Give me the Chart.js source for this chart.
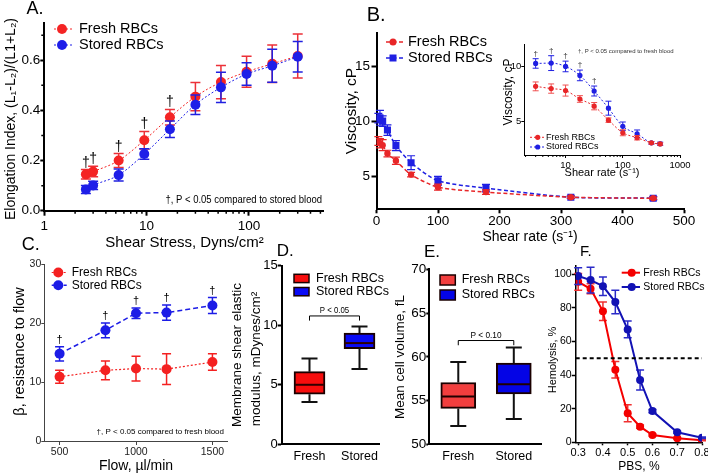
<!DOCTYPE html>
<html>
<head>
<meta charset="utf-8">
<script src="https://cdn.jsdelivr.net/npm/chart.js@4.4.1/dist/chart.umd.min.js"></script>
<style>
html, body { margin: 0; padding: 0; background: #fff; }
#wrap { position: relative; width: 708px; height: 474px; overflow: hidden; }
#wrap canvas { position: absolute; left: 0; top: 0; }
</style>
</head>
<body>
<div id="wrap">
<canvas id="cA" width="708" height="474"></canvas>
<canvas id="cB" width="708" height="474"></canvas>
<canvas id="cBi" width="708" height="474"></canvas>
<canvas id="cC" width="708" height="474"></canvas>
<canvas id="cD" width="708" height="474"></canvas>
<canvas id="cE" width="708" height="474"></canvas>
<canvas id="cF" width="708" height="474"></canvas>
</div>
<script>
// A. elongation index vs shear stress
const shearStress = [2.55, 3.0, 5.33, 9.49, 16.9, 30, 53.3, 94.9, 169, 300];
const eiFresh = [0.145, 0.156, 0.200, 0.281, 0.373, 0.455, 0.513, 0.554, 0.586, 0.617];
const eiFreshErr = [0.019, 0.021, 0.028, 0.035, 0.031, 0.056, 0.066, 0.062, 0.075, 0.088];
const eiStored = [0.085, 0.101, 0.142, 0.226, 0.325, 0.423, 0.492, 0.545, 0.578, 0.614];
const eiStoredErr = [0.016, 0.016, 0.024, 0.021, 0.033, 0.039, 0.060, 0.045, 0.066, 0.061];
const eiTicks = [0, 0.2, 0.4, 0.6];
const eiMinor = [0.1, 0.3, 0.5, 0.7];
const stressTicks = [1, 10, 100];
const stressMinor = [2, 3, 4, 5, 6, 7, 8, 9, 20, 30, 40, 50, 60, 70, 80, 90, 200, 300, 400, 500];

// B. viscosity vs shear rate (main + inset)
const shearRate = [3, 5.6, 10, 17.8, 31.6, 56.2, 100, 178, 316, 450];
const viscFresh = [8.2, 8.0, 7.82, 7.06, 6.41, 5.15, 4.01, 3.56, 3.1, 3.0];
const viscFreshErr = [0.4, 0.42, 0.5, 0.3, 0.33, 0.2, 0.27, 0.2, 0.1, 0.1];
const viscStored = [10.27, 10.3, 10.0, 9.19, 7.78, 6.23, 4.59, 3.92, 3.1, 3.01];
const viscStoredErr = [0.43, 0.67, 0.48, 0.48, 0.45, 0.63, 0.39, 0.34, 0.12, 0.15];
const rateTicks = [0, 100, 200, 300, 400, 500];
const viscTicks = [5, 10, 15];
const rateLogTicks = [10, 100, 1000];
const rateLogMinor = [2, 3, 4, 5, 6, 7, 8, 9, 20, 30, 40, 50, 60, 70, 80, 90, 200, 300, 400, 500, 600, 700, 800, 900];
const insetViscTicks = [5, 10];

// C. resistance to flow
const flow = [500, 800, 1000, 1200, 1500];
const betaFresh = [10.9, 12.0, 12.3, 12.2, 13.4];
const betaFreshErr = [1.1, 1.6, 2.1, 2.6, 1.4];
const betaStored = [14.8, 18.8, 21.7, 21.8, 23.0];
const betaStoredErr = [1.2, 1.25, 0.9, 1.3, 1.35];
const flowTicks = [500, 1000, 1500];
const betaTicks = [0, 10, 20, 30];

// D. membrane shear elastic modulus (box plot)
const groups = ['Fresh', 'Stored'];
const modMin = [3.55, 6.33];
const modQ1 = [4.2, 8.03];
const modMed = [5.0, 8.5];
const modQ3 = [6.1, 9.35];
const modMax = [7.2, 9.9];
const modTicks = [0, 5, 10, 15];

// E. mean cell volume (box plot)
const mcvMin = [52.1, 52.9];
const mcvQ1 = [54.1, 55.77];
const mcvMed = [55.46, 56.86];
const mcvQ3 = [57.06, 59.27];
const mcvMax = [59.4, 61.06];
const mcvTicks = [50, 55, 60, 65, 70];

// F. osmotic fragility
const pbs = [0.3, 0.35, 0.4, 0.45, 0.5, 0.55, 0.6, 0.7, 0.8];
const hemFresh = [95.6, 91.4, 78, 43.2, 17.3, 9.3, 4.3, 2.4, 1.2];
const hemFreshErr = [5, 3, 5.5, 4.9, 5, 1, 0.6, 0.4, 0.3];
const hemStored = [99, 96.6, 93, 83.5, 67.2, 37.1, 18.6, 6, 2.7];
const hemStoredErr = [5, 7.7, 5.5, 7, 5, 6, 1, 0.6, 0.5];
const hemHalf = 50;
const pbsTicks = [0.3, 0.4, 0.5, 0.6, 0.7, 0.8];
const hemTicks = [0, 20, 40, 60, 80, 100];

const W = 708, H = 474;
const FONT = '"Liberation Sans", Arial, Helvetica, sans-serif';
Chart.defaults.font.family = FONT;
Chart.defaults.color = '#000';
Chart.defaults.animation = false;
Chart.defaults.plugins.legend.display = false;
Chart.defaults.plugins.tooltip.enabled = false;

function pts(xs, ys) { return xs.map((x, i) => ({ x: x, y: ys[i] })); }
function boxes(q1, q3) { return q1.map((v, i) => ({ x: i, y: [v, q3[i]] })); }
function pad(a) { return { left: 0, top: a.top, right: W - a.right, bottom: 0 }; }

function scaleX(a, o) {
    return {
        type: o.type || 'linear', position: 'bottom', min: o.min, max: o.max, bounds: 'data', offset: false,
        grid: { offset: false, drawOnChartArea: false, drawTicks: o.tl > 0, tickLength: o.tl, tickColor: o.col || '#000', tickWidth: o.lw },
        border: { display: true, color: o.col || '#000', width: o.lw },
        ticks: { autoSkip: false, maxRotation: 0, minRotation: 0, padding: o.pad, color: o.tcol || '#000',
                 font: { size: o.fs }, callback: o.fmt || (v => String(v)) },
        afterBuildTicks: s => { s.ticks = o.ticks.map(v => ({ value: v })); },
        afterFit: s => { s.height = H - a.bottom; s.paddingLeft = 0; s.paddingRight = 0; }
    };
}

function scaleY(a, o) {
    return {
        type: o.type || 'linear', position: 'left', min: o.min, max: o.max, bounds: 'data',
        grid: { drawOnChartArea: false, drawTicks: o.tl > 0, tickLength: o.tl, tickColor: o.col || '#000', tickWidth: o.lw },
        border: { display: true, color: o.col || '#000', width: o.lw },
        ticks: { autoSkip: false, padding: o.pad, color: o.tcol || '#000',
                 font: { size: o.fs }, callback: o.fmt || (v => String(v)) },
        afterBuildTicks: s => { s.ticks = o.ticks.map(v => ({ value: v })); },
        afterFit: s => { s.width = a.left; s.paddingTop = 0; s.paddingBottom = 0; }
    };
}

function text(ctx, s, x, y, size, o) {
    o = o || {};
    ctx.save();
    ctx.font = size + 'px ' + FONT;
    ctx.fillStyle = o.color || '#000';
    ctx.textAlign = o.align || 'left';
    ctx.textBaseline = o.base || 'middle';
    ctx.translate(x, y);
    if (o.rot) ctx.rotate(-Math.PI / 2);
    if (o.sx) ctx.scale(o.sx, 1);
    ctx.fillText(s, 0, 0);
    ctx.restore();
}

function legendItem(ctx, l) {
    ctx.save();
    if (l.kind === 'box') {
        ctx.fillStyle = l.color;
        ctx.fillRect(l.x, l.y, l.w, l.h);
        ctx.strokeStyle = '#1a0000';
        ctx.lineWidth = 1.5;
        ctx.strokeRect(l.x, l.y, l.w, l.h);
    } else {
        ctx.strokeStyle = l.color;
        ctx.lineWidth = l.lw || 1;
        ctx.setLineDash(l.dash || []);
        ctx.beginPath();
        ctx.moveTo(l.x0, l.y);
        ctx.lineTo(l.x1, l.y);
        ctx.stroke();
        ctx.setLineDash([]);
        ctx.fillStyle = l.color;
        ctx.beginPath();
        if (l.marker === 'rect') ctx.rect(l.mx - l.r, l.y - l.r, 2 * l.r, 2 * l.r);
        else ctx.arc(l.mx, l.y, l.r, 0, Math.PI * 2);
        ctx.fill();
    }
    ctx.restore();
    text(ctx, l.label, l.tx, l.y + (l.kind === 'box' ? l.h / 2 : 0), l.fs);
}

function decor(cfg) {
    return {
        id: 'decor',
        afterDraw(chart) {
            const ctx = chart.ctx;
            (cfg.minor || []).forEach(m => {
                const s = chart.scales[m.axis];
                ctx.save();
                ctx.strokeStyle = m.col || '#000';
                ctx.lineWidth = m.lw || 1;
                ctx.beginPath();
                m.values.forEach(v => {
                    const p = s.getPixelForValue(v);
                    if (m.axis === 'x') { ctx.moveTo(p, s.top); ctx.lineTo(p, s.top + m.len); }
                    else { ctx.moveTo(s.right, p); ctx.lineTo(s.right - m.len, p); }
                });
                ctx.stroke();
                ctx.restore();
            });
            (cfg.daggers || []).forEach(d => {
                const ds = chart.data.datasets[d.ds];
                const meta = chart.getDatasetMeta(d.ds);
                const ys = chart.scales.y;
                d.idx.forEach(i => {
                    const py = ys.getPixelForValue(ds.data[i].y + ds.errors[i]);
                    text(ctx, '\u2020', meta.data[i].x, py - d.gap, d.fs, { align: 'center', base: 'alphabetic', color: d.color });
                });
            });
            (cfg.legend || []).forEach(l => legendItem(ctx, l));
            (cfg.texts || []).forEach(t => text(ctx, t[0], t[1], t[2], t[3], t[4]));
            if (cfg.bracket) {
                const b = cfg.bracket, xs = chart.scales.x, ys = chart.scales.y;
                const x0 = xs.getPixelForValue(0), x1 = xs.getPixelForValue(1);
                const yt = ys.getPixelForValue(b.top), yl = ys.getPixelForValue(b.leg);
                ctx.save();
                ctx.strokeStyle = '#000';
                ctx.lineWidth = 1;
                ctx.beginPath();
                ctx.moveTo(x0, yl); ctx.lineTo(x0, yt); ctx.lineTo(x1, yt); ctx.lineTo(x1, yl);
                ctx.stroke();
                ctx.restore();
                text(ctx, b.label, (x0 + x1) / 2, yt - b.dy, b.fs, { align: 'center', sx: 0.92 });
            }
        }
    };
}

// error bars drawn just before their own dataset
Chart.register({
    id: 'errorBars',
    beforeDatasetDraw(chart, args) {
        const ds = chart.data.datasets[args.index];
        if (!ds.errors) return;
        const meta = args.meta, ys = chart.scales[meta.yAxisID], ctx = chart.ctx;
        const cw = ds.capWidth || 4;
        ctx.save();
        ctx.strokeStyle = ds.errColor || ds.borderColor;
        ctx.lineWidth = ds.errWidth || 1.5;
        ctx.setLineDash([]);
        meta.data.forEach((pt, i) => {
            const v = ds.data[i].y, e = ds.errors[i];
            if (!e) return;
            const t = ys.getPixelForValue(v + e), b = ys.getPixelForValue(v - e), x = pt.x;
            ctx.beginPath();
            ctx.moveTo(x, t); ctx.lineTo(x, b);
            ctx.moveTo(x - cw, t); ctx.lineTo(x + cw, t);
            ctx.moveTo(x - cw, b); ctx.lineTo(x + cw, b);
            ctx.stroke();
        });
        ctx.restore();
    }
});

// whiskers and median for floating-bar box plots
Chart.register({
    id: 'boxWhiskers',
    afterDatasetDraw(chart, args) {
        const ds = chart.data.datasets[args.index];
        if (!ds.whisker) return;
        const ys = chart.scales.y, ctx = chart.ctx, w = ds.whisker;
        ctx.save();
        ctx.lineWidth = 2;
        args.meta.data.forEach((bar, i) => {
            const x = bar.x, half = bar.width / 2;
            const q1 = ys.getPixelForValue(ds.data[i].y[0]), q3 = ys.getPixelForValue(ds.data[i].y[1]);
            const lo = ys.getPixelForValue(w.min[i]), hi = ys.getPixelForValue(w.max[i]);
            const md = ys.getPixelForValue(w.med[i]);
            ctx.strokeStyle = '#111';
            ctx.beginPath();
            ctx.moveTo(x, q3); ctx.lineTo(x, hi);
            ctx.moveTo(x - w.cap, hi); ctx.lineTo(x + w.cap, hi);
            ctx.moveTo(x, q1); ctx.lineTo(x, lo);
            ctx.moveTo(x - w.cap, lo); ctx.lineTo(x + w.cap, lo);
            ctx.stroke();
            ctx.strokeStyle = w.medColor;
            ctx.beginPath();
            ctx.moveTo(x - half + 1, md); ctx.lineTo(x + half - 1, md);
            ctx.stroke();
        });
        ctx.restore();
    }
});

// ---------- panel A ----------
const aArea = { left: 44.3, top: 22.7, right: 323, bottom: 210.7 };
const redA = '#f42424', blueA = '#1e1ee8';
new Chart(document.getElementById('cA'), {
    type: 'line',
    data: { datasets: [
        { data: pts(shearStress, eiStored), errors: eiStoredErr, borderColor: blueA, backgroundColor: blueA,
          borderWidth: 1, borderDash: [2, 2], pointRadius: 5, pointBorderWidth: 0, cubicInterpolationMode: 'monotone',
          errColor: '#2020e0', capWidth: 5 },
        { data: pts(shearStress, eiFresh), errors: eiFreshErr, borderColor: redA, backgroundColor: redA,
          borderWidth: 1, borderDash: [2, 2], pointRadius: 5, pointBorderWidth: 0, cubicInterpolationMode: 'monotone',
          errColor: '#ec3038', capWidth: 5 }
    ] },
    options: {
        responsive: false,
        layout: { padding: pad(aArea) },
        scales: {
            x: scaleX(aArea, { type: 'logarithmic', min: 1, max: 530, ticks: stressTicks, tl: 5, pad: 2, lw: 2, fs: 13.5 }),
            y: scaleY(aArea, { min: 0, max: 0.75, ticks: eiTicks, tl: 4, pad: 0, lw: 2, fs: 13.5, fmt: v => v.toFixed(1) })
        }
    },
    plugins: [decor({
        minor: [{ axis: 'x', values: stressMinor, len: 3, lw: 1.5 }, { axis: 'y', values: eiMinor, len: 3, lw: 1.5 }],
        daggers: [{ ds: 1, idx: [0, 1, 2, 3, 4], gap: 3, fs: 14 }],
        legend: [
            { x0: 54, x1: 72, mx: 62, y: 29, r: 5, color: redA, dash: [2, 2], label: 'Fresh RBCs', tx: 79, fs: 14.5 },
            { x0: 54, x1: 72, mx: 62, y: 45, r: 5, color: blueA, dash: [2, 2], label: 'Stored RBCs', tx: 79, fs: 14.5 }
        ],
        texts: [
            ['A.', 26.5, 9, 18],
            ['Elongation Index, (L\u2081-L\u2082)/(L1+L\u2082)', 11, 119, 14, { rot: true, align: 'center' }],
            ['Shear Stress, Dyns/cm\u00b2', 184.5, 243, 15, { align: 'center' }],
            ['\u2020, P < 0.05 compared to stored blood', 322, 200, 10, { align: 'right', sx: 0.95 }]
        ]
    })]
});

// ---------- panel B (main) ----------
const bArea = { left: 376.5, top: 33, right: 684, bottom: 209.3 };
const redB = '#e82628', blueB = '#1f1fe2';
new Chart(document.getElementById('cB'), {
    type: 'line',
    data: { datasets: [
        { data: pts(shearRate, viscFresh), errors: viscFreshErr, borderColor: redB, backgroundColor: redB,
          borderWidth: 1.5, borderDash: [4, 2.5], pointRadius: 3.2, pointBorderWidth: 0, tension: 0.25, capWidth: 4, errWidth: 1.2 },
        { data: pts(shearRate, viscStored), errors: viscStoredErr, borderColor: blueB, backgroundColor: blueB,
          borderWidth: 1.5, borderDash: [4, 2.5], pointStyle: 'rect', pointRadius: 5, pointBorderWidth: 0, tension: 0.25, capWidth: 4, errWidth: 1.2 }
    ] },
    options: {
        responsive: false,
        layout: { padding: pad(bArea) },
        scales: {
            x: scaleX(bArea, { min: 0, max: 500, ticks: rateTicks, tl: 4, pad: 0, lw: 2, fs: 13.5 }),
            y: scaleY(bArea, { min: 2, max: 18, ticks: viscTicks, tl: 5, pad: 1.5, lw: 2, fs: 13.5 })
        }
    },
    plugins: [decor({
        legend: [
            { x0: 386, x1: 403, mx: 393, y: 42, r: 3.5, color: redB, lw: 1.5, dash: [4, 2.5], label: 'Fresh RBCs', tx: 408, fs: 14.5 },
            { x0: 386, x1: 403, mx: 393, y: 58, r: 3.5, marker: 'rect', color: blueB, lw: 1.5, dash: [4, 2.5], label: 'Stored RBCs', tx: 408, fs: 14.5 }
        ],
        texts: [
            ['B.', 366.7, 15, 20],
            ['Viscosity, cP', 352, 111, 15.5, { rot: true, align: 'center' }],
            ['Shear rate (s\u207b\u00b9)', 530, 237, 14, { align: 'center' }]
        ]
    })]
});

// ---------- panel B (inset) ----------
const biArea = { left: 524.3, top: 44.3, right: 680, bottom: 155 };
new Chart(document.getElementById('cBi'), {
    type: 'line',
    data: { datasets: [
        { data: pts(shearRate, viscFresh), errors: viscFreshErr, borderColor: redB, backgroundColor: redB,
          borderWidth: 1, borderDash: [2, 2], pointRadius: 2.6, pointBorderWidth: 0, cubicInterpolationMode: 'monotone',
          capWidth: 3, errWidth: 1, errColor: '#f05050' },
        { data: pts(shearRate, viscStored), errors: viscStoredErr, borderColor: blueB, backgroundColor: blueB,
          borderWidth: 1, borderDash: [2, 2], pointRadius: 2.6, pointBorderWidth: 0, cubicInterpolationMode: 'monotone',
          capWidth: 3, errWidth: 1 }
    ] },
    options: {
        responsive: false,
        layout: { padding: pad(biArea) },
        scales: {
            x: scaleX(biArea, { type: 'logarithmic', min: 1.9, max: 1000, ticks: rateLogTicks, tl: 3, pad: 2, lw: 1, fs: 9.5 }),
            y: scaleY(biArea, { min: 2, max: 12, ticks: insetViscTicks, tl: 3, pad: 0, lw: 1, fs: 9.5 })
        }
    },
    plugins: [decor({
        minor: [{ axis: 'x', values: rateLogMinor, len: 2, lw: 1 }],
        daggers: [{ ds: 1, idx: [0, 1, 2, 3, 4], gap: 3, fs: 8, color: '#333' }],
        legend: [
            { x0: 530, x1: 545, mx: 537.7, y: 137.3, r: 2.6, color: redB, dash: [2, 2], label: 'Fresh RBCs', tx: 546, fs: 9 },
            { x0: 530, x1: 545, mx: 537.7, y: 147, r: 2.6, color: blueB, dash: [2, 2], label: 'Stored RBCs', tx: 546, fs: 9 }
        ],
        texts: [
            ['Viscosity, cP', 509, 92, 12, { rot: true, align: 'center' }],
            ['Shear rate (s\u207b\u00b9)', 602, 173, 11, { align: 'center' }],
            ['\u2020, P < 0.05 compared to fresh blood', 578, 51, 6, { color: '#333' }]
        ]
    })]
});

// ---------- panel C ----------
const cArea = { left: 44.3, top: 264.3, right: 227.7, bottom: 441 };
const redC = '#f42020', blueC = '#1c1ce6';
new Chart(document.getElementById('cC'), {
    type: 'line',
    data: { datasets: [
        { data: pts(flow, betaFresh), errors: betaFreshErr, borderColor: redC, backgroundColor: redC,
          borderWidth: 1.2, borderDash: [2, 2], pointRadius: 5, pointBorderWidth: 0, capWidth: 4.5 },
        { data: pts(flow, betaStored), errors: betaStoredErr, borderColor: blueC, backgroundColor: blueC,
          borderWidth: 1.5, borderDash: [5, 3], pointRadius: 5, pointBorderWidth: 0, capWidth: 4.5 }
    ] },
    options: {
        responsive: false,
        layout: { padding: pad(cArea) },
        scales: {
            x: scaleX(cArea, { min: 400, max: 1600, ticks: flowTicks, tl: 4, pad: 1, lw: 1, fs: 10.5, col: '#444', tcol: '#222' }),
            y: scaleY(cArea, { min: 0, max: 30, ticks: betaTicks, tl: 3, pad: 0, lw: 1, fs: 10.5, col: '#444', tcol: '#222' })
        }
    },
    plugins: [decor({
        daggers: [{ ds: 1, idx: [0, 1, 2, 3, 4], gap: 4, fs: 11 }],
        legend: [
            { x0: 51.7, x1: 66.7, mx: 58.3, y: 272.5, r: 5, color: redC, dash: [2, 2], label: 'Fresh RBCs', tx: 71.7, fs: 12 },
            { x0: 51.7, x1: 66.7, mx: 58.3, y: 285.3, r: 5, color: blueC, lw: 1.5, dash: [4, 2], label: 'Stored RBCs', tx: 71.7, fs: 12 }
        ],
        texts: [
            ['C.', 21.7, 245, 18],
            ['\u03b2, resistance to flow', 20, 351.5, 14.5, { rot: true, align: 'center' }],
            ['Flow, \u00b5l/min', 136, 466, 14, { align: 'center' }],
            ['\u2020, P < 0.05 compared to fresh blood', 224, 431.7, 8, { align: 'right' }]
        ]
    })]
});

// ---------- panel D ----------
const dArea = { left: 281.7, top: 265.7, right: 380, bottom: 444.3 };
new Chart(document.getElementById('cD'), {
    type: 'bar',
    data: { datasets: [
        { data: boxes(modQ1, modQ3), backgroundColor: ['#f70d0d', '#0a0af5'], borderColor: '#1a0000',
          borderWidth: 2, borderSkipped: false, barThickness: 31,
          whisker: { min: modMin, med: modMed, max: modMax, cap: 8, medColor: '#300000' } }
    ] },
    options: {
        responsive: false,
        layout: { padding: pad(dArea) },
        scales: {
            x: scaleX(dArea, { min: -0.556, max: 1.41, ticks: [0, 1], tl: 0, pad: 5, lw: 2, fs: 12.5, fmt: v => groups[v] }),
            y: scaleY(dArea, { min: 0, max: 15, ticks: modTicks, tl: 4, pad: 0, lw: 2, fs: 13 })
        }
    },
    plugins: [decor({
        legend: [
            { kind: 'box', x: 294, y: 274.3, w: 15, h: 8.3, color: '#f70d0d', label: 'Fresh RBCs', tx: 316, fs: 12.5 },
            { kind: 'box', x: 294, y: 287.5, w: 15, h: 8.3, color: '#0a0af5', label: 'Stored RBCs', tx: 316, fs: 12.5 }
        ],
        bracket: { top: 10.78, leg: 10.39, label: 'P < 0.05', dy: 5, fs: 8.5 },
        texts: [
            ['D.', 276.7, 251, 17],
            ['Membrane shear elastic', 237, 355, 13.5, { rot: true, align: 'center' }],
            ['modulus, mDynes/cm\u00b2', 256.5, 359, 13.5, { rot: true, align: 'center' }]
        ]
    })]
});

// ---------- panel E ----------
const eArea = { left: 429.3, top: 269.3, right: 541, bottom: 444.3 };
new Chart(document.getElementById('cE'), {
    type: 'bar',
    data: { datasets: [
        { data: boxes(mcvQ1, mcvQ3), backgroundColor: ['#f23e3e', '#0404e6'], borderColor: '#1a0000',
          borderWidth: 2, borderSkipped: false, barThickness: 35,
          whisker: { min: mcvMin, med: mcvMed, max: mcvMax, cap: 8, medColor: '#200000' } }
    ] },
    options: {
        responsive: false,
        layout: { padding: pad(eArea) },
        scales: {
            x: scaleX(eArea, { min: -0.522, max: 1.49, ticks: [0, 1], tl: 0, pad: 5, lw: 2, fs: 12.5, fmt: v => groups[v] }),
            y: scaleY(eArea, { min: 50, max: 70, ticks: mcvTicks, tl: 3, pad: 0, lw: 2, fs: 13.5 })
        }
    },
    plugins: [decor({
        legend: [
            { kind: 'box', x: 440, y: 275, w: 15.3, h: 10, color: '#f23e3e', label: 'Fresh RBCs', tx: 461.7, fs: 12.5 },
            { kind: 'box', x: 440, y: 290, w: 15.3, h: 10, color: '#0404e6', label: 'Stored RBCs', tx: 461.7, fs: 12.5 }
        ],
        bracket: { top: 61.86, leg: 61.32, label: 'P < 0.10', dy: 5.3, fs: 9 },
        texts: [
            ['E.', 424, 252, 17],
            ['Mean cell volume, fL', 400, 357, 13.5, { rot: true, align: 'center' }]
        ]
    })]
});

// ---------- panel F ----------
const fArea = { left: 575.7, top: 266, right: 702, bottom: 442.3 };
const redF = '#f40000', blueF = '#1212b4';
new Chart(document.getElementById('cF'), {
    type: 'line',
    data: { datasets: [
        { data: [{ x: 0.29, y: hemHalf }, { x: 0.8, y: hemHalf }], borderColor: '#000', borderWidth: 2,
          borderDash: [4, 3], pointRadius: 0 },
        { data: pts(pbs, hemStored), errors: hemStoredErr, borderColor: blueF, backgroundColor: blueF,
          borderWidth: 2, pointRadius: 4, pointBorderWidth: 0, capWidth: 4, errWidth: 1.5, errColor: '#2a2ac8' },
        { data: pts(pbs, hemFresh), errors: hemFreshErr, borderColor: redF, backgroundColor: redF,
          borderWidth: 2, pointRadius: 4, pointBorderWidth: 0, capWidth: 4, errWidth: 1.5, errColor: '#f03030' }
    ] },
    options: {
        responsive: false,
        layout: { padding: pad(fArea) },
        scales: {
            x: scaleX(fArea, { min: 0.29, max: 0.8, ticks: pbsTicks, tl: 3, pad: 1, lw: 1.5, fs: 11, fmt: v => v.toFixed(1) }),
            y: scaleY(fArea, { min: 0, max: 105, ticks: hemTicks, tl: 4, pad: 0, lw: 1.5, fs: 10.5 })
        }
    },
    plugins: [decor({
        legend: [
            { x0: 621.7, x1: 640, mx: 631.7, y: 272.7, r: 4, lw: 2, color: redF, label: 'Fresh RBCs', tx: 643.3, fs: 10.5 },
            { x0: 621.7, x1: 640, mx: 631.7, y: 287, r: 4, lw: 2, color: blueF, label: 'Stored RBCs', tx: 643.3, fs: 10.5 }
        ],
        texts: [
            ['F.', 580, 251.5, 15],
            ['Hemolysis, %', 553, 360, 11, { rot: true, align: 'center' }],
            ['PBS, %', 639, 467, 12, { align: 'center' }]
        ]
    })]
});
</script>
</body>
</html>
